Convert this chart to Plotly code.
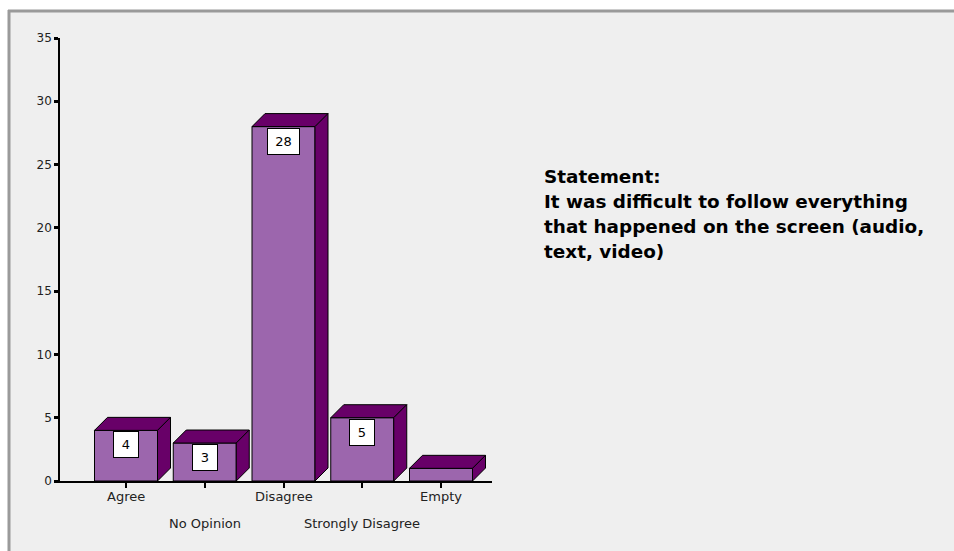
import plotly.graph_objects as go

# Survey responses
categories = ["Agree", "No Opinion", "Disagree", "Strongly Disagree", "Empty"]
counts = [4, 3, 28, 5, 1]
y_ticks = [0, 5, 10, 15, 20, 25, 30, 35]
statement_lines = [
    "Statement:",
    "It was difficult to follow everything",
    "that happened on the screen (audio,",
    "text, video)",
]

FRONT = "#9C66AD"
DARK = "#680068"
PANEL = "#EFEFEF"
FRAME = "#9A9A9A"
LABEL_FONT = "DejaVu Sans, Arial"

W, H = 954, 551
L, R, T, B = 60, 492, 38, 481          # plot area in pixels
STEP, C0 = 78.75, 126                   # category spacing / first center (px)
Y_MAX = 35

bar_w = 63 / STEP                       # bar width in category units
dx = 13 / STEP                          # 3-D depth, horizontal (category units)
dy = 13 / ((B - T) / Y_MAX)             # 3-D depth, vertical (data units)

x_range = [(L - C0) / STEP, (R - C0) / STEP]


def px_x(p):
    return (p - L) / (R - L)


def px_y(p):
    return (B - p) / (B - T)


fig = go.Figure()


def face(xs, ys, color):
    fig.add_trace(go.Scatter(
        x=xs + [xs[0]], y=ys + [ys[0]], mode="lines", fill="toself",
        fillcolor=color, line=dict(color="black", width=1),
        hoverinfo="skip", showlegend=False,
    ))


for i, v in enumerate(counts):
    x0, x1 = i - bar_w / 2, i + bar_w / 2
    # front face
    face([x0, x1, x1, x0], [0, 0, v, v], FRONT)
    # top face
    face([x0, x0 + dx, x1 + dx, x1], [v, v + dy, v + dy, v], DARK)
    # right side face
    face([x1, x1 + dx, x1 + dx, x1], [0, dy, v + dy, v], DARK)

annotations = []

# value boxes inside the front face
for i, v in enumerate(counts):
    if v < 2:
        continue
    annotations.append(dict(
        x=i, y=v, xref="x", yref="y", xanchor="center", yanchor="top",
        yshift=-1, text=str(v), showarrow=False,
        font=dict(family=LABEL_FONT, size=13, color="black"),
        bgcolor="white", bordercolor="black", borderwidth=1, borderpad=2,
        width=20 if v < 10 else 27, height=21,
    ))

# category labels, staggered on two rows
for i, c in enumerate(categories):
    annotations.append(dict(
        x=i, y=0, xref="x", yref="y", xanchor="center", yanchor="top",
        yshift=-6 if i % 2 == 0 else -33, text=c, showarrow=False,
        font=dict(family=LABEL_FONT, size=13, color="#222"),
    ))

# statement text block, one annotation per line
for k, line in enumerate(statement_lines):
    annotations.append(dict(
        x=px_x(542), y=px_y(176.5 + 25 * k), xref="paper", yref="paper",
        xanchor="left", yanchor="middle", align="left", showarrow=False,
        text=line,
        font=dict(family="DejaVu Sans, Arial", size=18.4, color="black",
                  weight="bold"),
    ))

# white margin strips and the grey frame on the left and top of the panel
shapes = [
    dict(type="rect", xref="paper", yref="paper", layer="below",
         x0=px_x(0), x1=px_x(9), y0=px_y(H), y1=px_y(0),
         fillcolor="white", line=dict(width=0)),
    dict(type="rect", xref="paper", yref="paper", layer="below",
         x0=px_x(0), x1=px_x(W), y0=px_y(11), y1=px_y(0),
         fillcolor="white", line=dict(width=0)),
    dict(type="line", xref="paper", yref="paper", layer="below",
         x0=px_x(9), x1=px_x(9), y0=px_y(H), y1=px_y(10),
         line=dict(color=FRAME, width=3)),
    dict(type="line", xref="paper", yref="paper", layer="below",
         x0=px_x(8), x1=px_x(W), y0=px_y(11), y1=px_y(11),
         line=dict(color=FRAME, width=3)),
]

fig.update_layout(
    width=W, height=H,
    margin=dict(l=L, r=W - R, t=T, b=H - B, pad=0),
    paper_bgcolor=PANEL,
    plot_bgcolor="rgba(0,0,0,0)",
    template="none",
    showlegend=False,
    annotations=annotations,
    shapes=shapes,
    xaxis=dict(
        range=x_range, tickvals=list(range(len(categories))),
        showticklabels=False, ticks="outside", ticklen=5, tickwidth=2,
        tickcolor="black", showline=True, linecolor="black", linewidth=1.5,
        showgrid=False, zeroline=False, automargin=False, fixedrange=True,
    ),
    yaxis=dict(
        range=[0, Y_MAX], tickvals=y_ticks, ticks="outside", ticklen=4,
        tickwidth=3, tickcolor="black", showline=True, linecolor="black",
        linewidth=1.5, showgrid=False, zeroline=False, automargin=False,
        tickfont=dict(family=LABEL_FONT, size=12, color="#222"),
        fixedrange=True,
    ),
)

# keep the page from showing scrollbars around the fixed-size figure
page_js = (
    "document.documentElement.style.overflow='hidden';"
    "document.body.style.overflow='hidden';"
    "document.body.style.margin='0';"
)

fig.write_html("out.html", post_script=page_js,
               config={"displayModeBar": False})
